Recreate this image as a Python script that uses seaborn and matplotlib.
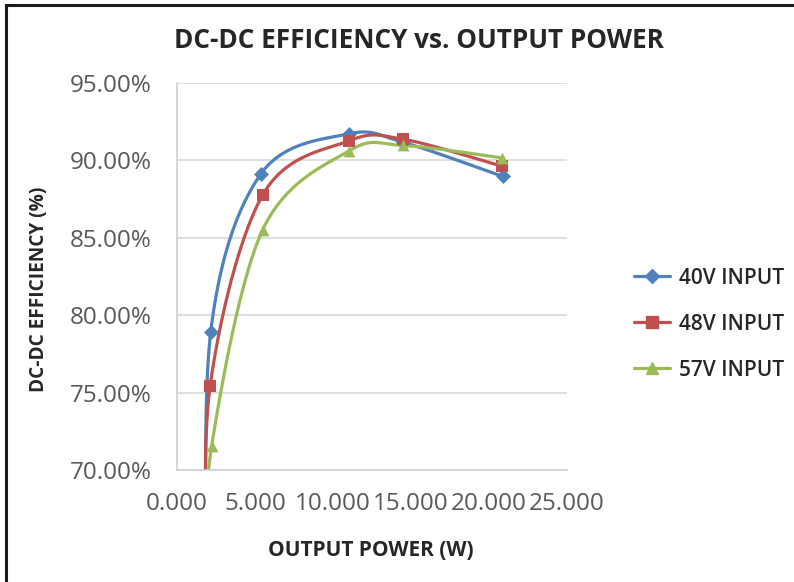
import numpy as np
import pandas as pd
import matplotlib.pyplot as plt
import seaborn as sns
from matplotlib.lines import Line2D
from matplotlib.patches import Rectangle

# values (first point of each series sits below the 70% floor)
power_40v = [1.90, 2.16, 5.37, 11.03, 14.51, 20.88]
eff_40v = [60.0, 78.9, 89.1, 91.7, 91.15, 88.95]
power_48v = [2.00, 2.12, 5.49, 11.03, 14.51, 20.86]
eff_48v = [62.0, 75.4, 87.75, 91.25, 91.35, 89.6]
power_57v = [2.08, 2.22, 5.49, 11.03, 14.51, 20.81]
eff_57v = [64.0, 71.55, 85.5, 90.6, 90.95, 90.15]

series_names = ['40V INPUT', '48V INPUT', '57V INPUT']
colors = ['#4F81BD', '#C0504D', '#9BBB59']
markers = ['D', 's', '^']
x_ticks = [0, 5, 10, 15, 20, 25]
y_ticks = [70, 75, 80, 85, 90, 95]


def smooth(xs, ys, n=40):
    # Excel style smoothed line (Catmull-Rom bezier through the points)
    p = np.column_stack([xs, ys]).astype(float)
    p = np.vstack([p[0], p, p[-1]])
    out = []
    t = np.linspace(0, 1, n)[:, None]
    for i in range(1, len(p) - 2):
        p0, p1, p2, p3 = p[i - 1], p[i], p[i + 1], p[i + 2]
        c1 = p1 + (p2 - p0) / 6
        c2 = p2 - (p3 - p1) / 6
        seg = ((1 - t) ** 3) * p1 + 3 * ((1 - t) ** 2) * t * c1 + 3 * (1 - t) * t ** 2 * c2 + t ** 3 * p2
        out.append(seg)
    out = np.vstack(out)
    return out[:, 0], out[:, 1]


sns.set_style('white')
plt.rcParams['font.family'] = ['Open Sans', 'DejaVu Sans']

fig = plt.figure(figsize=(7.94, 5.82), dpi=100)
ax = fig.add_axes([177 / 794, 1 - 470 / 582, 390 / 794, 387.3 / 582])

data = [(power_40v, eff_40v), (power_48v, eff_48v), (power_57v, eff_57v)]
for (px, ey), col, mk in zip(data, colors, markers):
    sx, sy = smooth(px, ey)
    sns.lineplot(x=sx, y=sy, sort=False, estimator=None, color=col, lw=2.3, ax=ax)
    size = 58 if mk == 'D' else 72
    sns.scatterplot(x=px, y=ey, marker=mk, color=col, s=size, linewidth=0, ax=ax, zorder=3)

ax.set_xlim(0, 25)
ax.set_ylim(70, 95)
ax.set_xticks(x_ticks)
ax.set_xticklabels([f'{v:.3f}' for v in x_ticks])
ax.set_yticks(y_ticks)
ax.set_yticklabels([f'{v:.2f}%' for v in y_ticks])
ax.yaxis.grid(True, color='#D9D9D9', lw=1.2)
ax.xaxis.grid(False)
for s in ['top', 'right']:
    ax.spines[s].set_visible(False)
for s in ['left', 'bottom']:
    ax.spines[s].set_color('#D0D0D0')
    ax.spines[s].set_linewidth(1.2)
ax.tick_params(axis='both', which='major', direction='out', length=7, width=1.2,
               color='#D0D0D0', labelsize=17.5, labelcolor='#595959')
ax.tick_params(axis='y', pad=11)
ax.tick_params(axis='x', pad=9)
ax.set_xlabel('')
ax.set_ylabel('')

fig.text(419 / 794, 1 - 40 / 582, 'DC-DC EFFICIENCY vs. OUTPUT POWER', ha='center', va='center',
         fontsize=18.8, fontweight='bold', color='#262626')
fig.text(371 / 794, 1 - 550 / 582, 'OUTPUT POWER (W)', ha='center', va='center',
         fontsize=15, fontweight='bold', color='#262626')
fig.text(39 / 794, 1 - 289 / 582, 'DC-DC EFFICIENCY (%)', ha='center', va='center', rotation=90,
         fontsize=13.7, fontweight='bold', color='#262626')

handles = [Line2D([0], [0], color=c, lw=2.3, marker=m, markersize=7 if m == 'D' else 8)
           for c, m in zip(colors, markers)]
fig.legend(handles, series_names, loc='center left', bbox_to_anchor=(615 / 794, 1 - 324 / 582),
           frameon=False, handlelength=1.75, handletextpad=0.4, labelspacing=1.2,
           prop={'size': 15, 'weight': 'semibold'})

# chart border
fig.patches.append(Rectangle((6 / 794, -0.1), 1.2, 1.1 - 5 / 582, transform=fig.transFigure,
                             fill=False, edgecolor='#1A1A1A', lw=2.2))

fig.savefig('out.png', dpi=100)
